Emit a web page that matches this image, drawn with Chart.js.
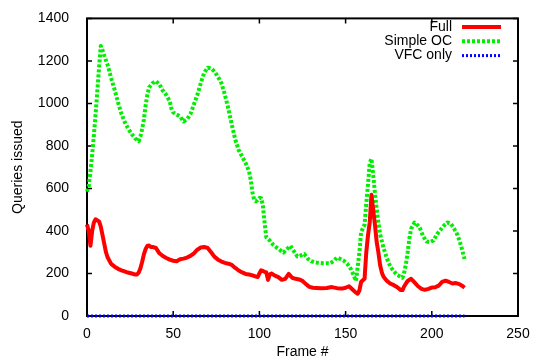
<!DOCTYPE html>
<html>
<head>
<meta charset="utf-8">
<script src="https://cdn.jsdelivr.net/npm/chart.js@4"></script>
<style>
  html, body { margin: 0; padding: 0; background: #fff; }
</style>
</head>
<body>
<canvas id="chart" width="535" height="359"></canvas>
<script>
// ── Data ──────────────────────────────────────────────────────
const xTicks = [0, 50, 100, 150, 200, 250];
const yTicks = [0, 200, 400, 600, 800, 1000, 1200, 1400];

const fullFrames = [0,1,2,3,4,5,6,7,8,9,10,11,12,14,16,18,20,23,26,28,29,30,31,32,33,34,35,36,37,38,40,42,44,46,48,50,52,54,56,58,60,62,64,66,68,70,72,74,76,78,80,82,84,86,88,90,92,94,96,98,99,100,101,102,103,104,105,106,107,109,111,113,115,117,119,121,123,125,127,129,131,133,136,139,142,145,148,150,152,154,156,157,158,159,160,161,162,163,164,165,166,167,168,169,170,171,172,174,176,178,180,182,183,184,186,188,190,192,194,196,198,200,202,204,206,208,210,212,214,216,218,219];
const fullValues = [430,400,330,400,440,455,450,445,420,380,340,300,275,245,232,222,215,206,200,195,195,205,225,255,290,315,330,332,325,325,320,295,282,273,265,260,258,267,270,275,283,295,312,322,325,320,300,278,265,256,250,246,240,226,214,205,198,195,191,185,183,200,215,212,208,205,170,195,200,190,183,170,175,198,180,175,172,165,150,137,133,132,130,132,136,131,129,133,140,125,110,105,120,160,168,175,300,380,440,570,500,430,350,300,240,205,185,165,152,145,135,122,122,140,165,175,158,140,128,123,128,134,135,143,160,166,160,153,155,150,140,133];

const simpleFrames = [0,1,2,3,4,5,6,7,8,9,10,12,14,16,18,20,22,24,26,28,30,31,32,33,34,35,36,38,40,42,44,46,48,49,50,52,54,56,58,60,62,64,66,68,70,72,74,76,78,80,82,84,86,88,90,92,94,95,96,97,98,99,100,101,102,103,104,106,108,110,112,114,116,118,120,122,124,126,128,130,132,134,137,141,143,145,147,149,151,153,155,156,157,158,159,161,162,163,164,165,166,167,168,169,170,172,174,176,178,180,182,183,184,185,186,187,188,190,191,193,195,197,199,201,203,205,207,209,211,213,215,217,219];
const simpleValues = [585,610,680,760,850,950,1060,1170,1270,1250,1225,1180,1120,1065,1005,950,910,880,855,835,822,845,880,925,990,1040,1075,1095,1105,1090,1060,1040,1010,975,958,948,938,915,925,950,995,1040,1095,1145,1168,1165,1150,1125,1095,1040,975,900,830,780,750,720,680,640,580,545,540,545,555,555,520,440,370,355,335,322,310,298,315,330,305,280,285,292,270,258,253,250,248,248,258,275,268,260,245,222,185,165,230,300,395,430,530,620,720,740,665,580,505,440,385,320,270,232,210,192,185,180,205,245,300,365,410,440,435,415,375,350,348,355,385,405,425,440,435,410,380,330,268];

const vfcFrames = [0, 219];
const vfcValues = [0, 0];

const FONT = '"Liberation Sans", Arial, sans-serif';
const toPoints = (xs, ys) => xs.map((x, i) => ({ x, y: ys[i] }));

// ── Plot frame + inward ticks (gnuplot style) ─────────────────
const framePlugin = {
  id: 'frame',
  beforeDatasetsDraw(chart) {
    const { ctx, chartArea: a, scales } = chart;
    ctx.save();
    ctx.strokeStyle = '#000';
    ctx.lineWidth = 1.5;
    ctx.beginPath();
    xTicks.forEach(v => {
      const px = scales.x.getPixelForValue(v);
      ctx.moveTo(px, a.bottom); ctx.lineTo(px, a.bottom - 5);
      ctx.moveTo(px, a.top);    ctx.lineTo(px, a.top + 5);
    });
    yTicks.forEach(v => {
      const py = scales.y.getPixelForValue(v);
      ctx.moveTo(a.left, py);  ctx.lineTo(a.left + 5, py);
      ctx.moveTo(a.right, py); ctx.lineTo(a.right - 5, py);
    });
    ctx.stroke();
    ctx.lineWidth = 2;
    ctx.strokeRect(a.left, a.top, a.right - a.left, a.bottom - a.top);
    ctx.restore();
  }
};

// ── Legend: right-aligned text, sample line to the right ──────
const keyPlugin = {
  id: 'key',
  afterDraw(chart) {
    const { ctx } = chart;
    ctx.save();
    ctx.font = '14px ' + FONT;
    ctx.textAlign = 'right';
    ctx.textBaseline = 'middle';
    chart.data.datasets.forEach((ds, i) => {
      const y = 27 + i * 14.3;
      ctx.fillStyle = '#000';
      ctx.fillText(ds.label, 452, y);
      ctx.strokeStyle = ds.borderColor;
      ctx.lineWidth = ds.borderWidth;
      ctx.setLineDash(ds.borderDash || []);
      ctx.beginPath();
      ctx.moveTo(462, y);
      ctx.lineTo(501, y);
      ctx.stroke();
    });
    ctx.restore();
  }
};

new Chart(document.getElementById('chart'), {
  type: 'line',
  data: {
    datasets: [
      { label: 'Full', data: toPoints(fullFrames, fullValues),
        borderColor: '#ff0000', borderWidth: 4, clip: false },
      { label: 'Simple OC', data: toPoints(simpleFrames, simpleValues),
        borderColor: '#00ee00', borderWidth: 4, borderDash: [3, 2], clip: false },
      { label: 'VFC only', data: toPoints(vfcFrames, vfcValues),
        borderColor: '#0000ff', borderWidth: 3, borderDash: [2, 2], clip: false },
    ],
  },
  options: {
    responsive: false,
    animation: false,
    devicePixelRatio: 1,
    elements: { point: { radius: 0 }, line: { tension: 0, borderJoinStyle: 'round' } },
    layout: { padding: { top: 15, right: 17, left: 0, bottom: 0 } },
    plugins: { legend: { display: false }, tooltip: { enabled: false } },
    scales: {
      x: {
        type: 'linear', min: 0, max: 250,
        afterBuildTicks: s => { s.ticks = xTicks.map(v => ({ value: v })); },
        afterFit: s => { s.height = 43; },
        grid: { display: false }, border: { display: false },
        ticks: { color: '#000', font: { family: FONT, size: 14 }, padding: 2, maxRotation: 0,
                 callback: v => String(v) },
        title: { display: true, text: 'Frame #', color: '#000',
                 font: { family: FONT, size: 14, lineHeight: 1 }, padding: 0 },
      },
      y: {
        min: 0, max: 1400,
        afterBuildTicks: s => { s.ticks = yTicks.map(v => ({ value: v })); },
        afterFit: s => { s.width = 87; },
        grid: { display: false }, border: { display: false },
        ticks: { color: '#000', font: { family: FONT, size: 14 }, padding: 10,
                 callback: v => String(v) },
        title: { display: true, text: 'Queries issued', color: '#000',
                 font: { family: FONT, size: 14, lineHeight: 1.2 }, padding: { top: 10 } },
      },
    },
  },
  plugins: [framePlugin, keyPlugin],
});
</script>
</body>
</html>
